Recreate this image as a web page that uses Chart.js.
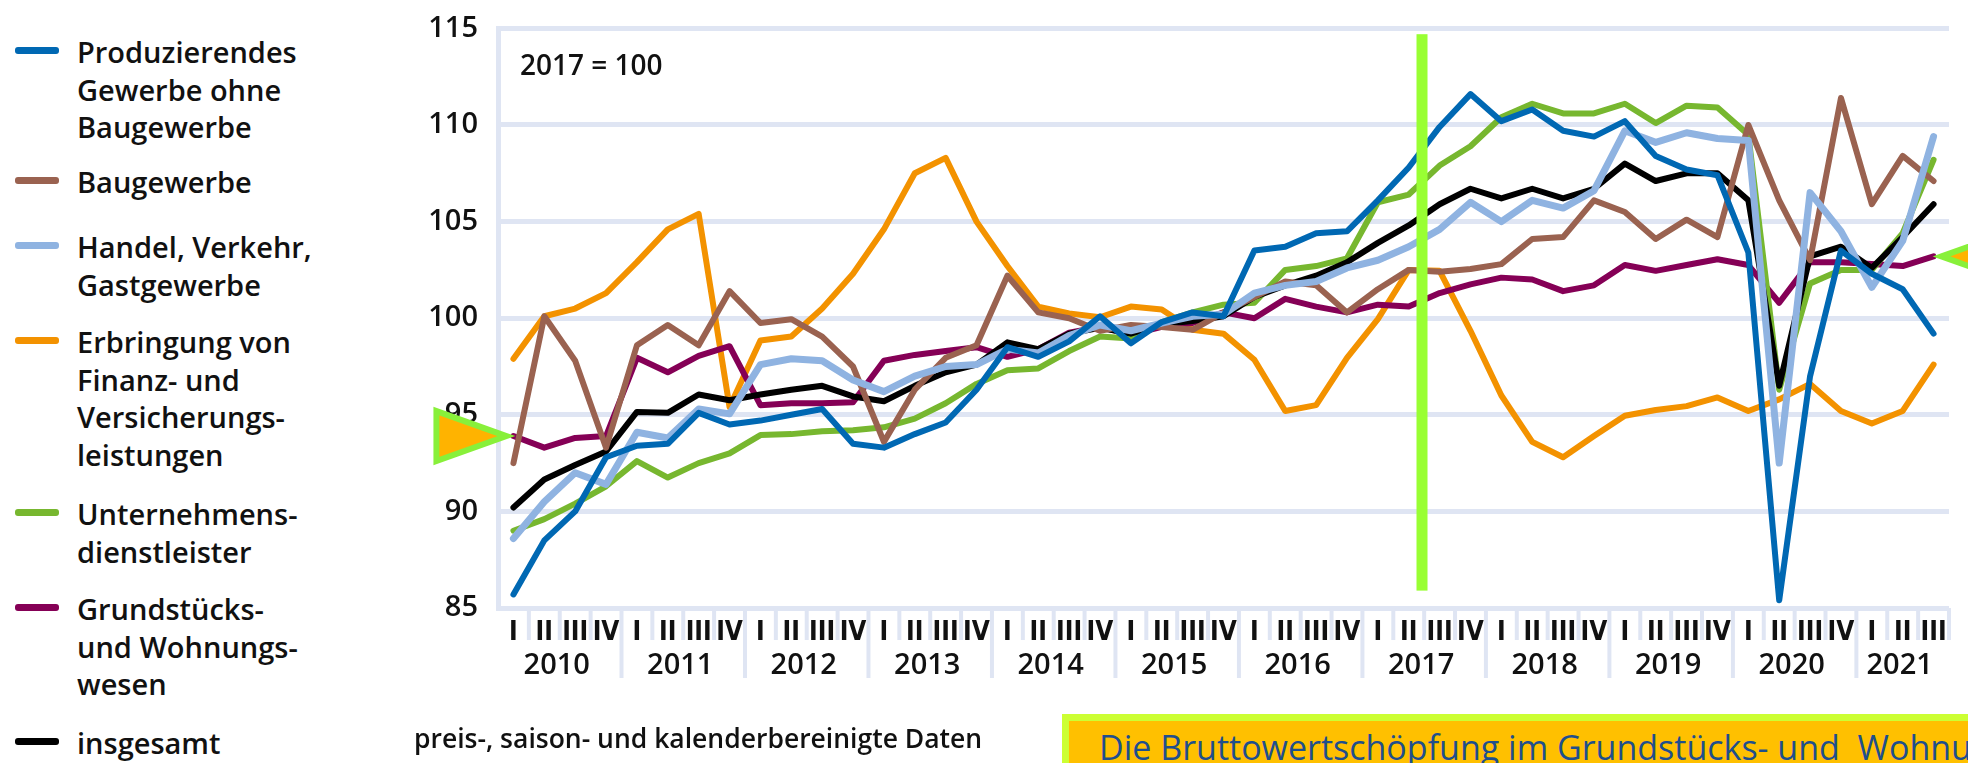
<!DOCTYPE html>
<html lang="de">
<head>
<meta charset="utf-8">
<title>Bruttowertschöpfung nach Wirtschaftsbereichen</title>
<script src="https://cdn.jsdelivr.net/npm/chart.js@4.4.1/dist/chart.umd.min.js"></script>
<style>
    html, body { margin: 0; padding: 0; background: #fff; }
    body { width: 1968px; height: 763px; position: relative; overflow: hidden; font-family: 'Open Sans', sans-serif; color: #111; }
    #chart-box { position: absolute; left: 0; top: -9px; width: 1968px; height: 772px; }
    .legend-swatch { position: absolute; left: 15px; width: 44px; height: 7px; border-radius: 3px; }
    .legend-text { position: absolute; left: 77px; font-size: 29px; font-weight: 600; line-height: 37.5px; white-space: nowrap; }
    #base-note { position: absolute; left: 520px; top: 49px; font-size: 28px; font-weight: 600; line-height: 30px; white-space: nowrap; }
    #source-note { position: absolute; left: 414px; top: 723px; font-size: 26.5px; font-weight: 600; line-height: 30px; white-space: nowrap; }
    #callout { position: absolute; left: 1062px; top: 714px; width: 1000px; height: 100px; box-sizing: border-box;
               border: 7px solid #ccff33; background: #ffc000; padding: 6px 0 0 30px;
               font-size: 34px; line-height: 40px; color: #1f4f8c; white-space: nowrap; overflow: hidden; }
</style>
</head>
<body>
<div id="legend"></div>
<div id="chart-box"><canvas id="chart" width="1968" height="772"></canvas></div>
<div id="base-note">2017 = 100</div>
<div id="source-note">preis-, saison- und kalenderbereinigte Daten</div>
<div id="callout">Die Bruttowertschöpfung im Grundstücks- und&nbsp; Wohnungswesen</div>

<script>
// Quarters 2010 I .. 2021 III
const years = ['2010', '2011', '2012', '2013', '2014', '2015', '2016', '2017', '2018', '2019', '2020', '2021'];
const quarterNames = ['I', 'II', 'III', 'IV'];
const lastYearQuarters = 3;
const yTicks = [85, 90, 95, 100, 105, 110, 115];

const produzierend = [
    85.7, 88.5, 90.0, 92.8,   93.4, 93.5, 95.1, 94.5,   94.7, 95.0, 95.3, 93.5,
    93.3, 94.0, 94.6, 96.3,   98.5, 98.0, 98.8, 100.1,  98.7, 99.8, 100.3, 100.1,
    103.5, 103.7, 104.4, 104.5,  106.1, 107.8, 109.9, 111.6,  110.2, 110.8, 109.7, 109.4,
    110.2, 108.4, 107.7, 107.4,  103.4, 85.4, 97.0, 103.5,  102.3, 101.5, 99.2
];
const baugewerbe = [
    92.5, 100.1, 97.8, 93.3,  98.6, 99.65, 98.6, 101.4,  99.75, 99.95, 99.05, 97.5,
    93.6, 96.3, 97.95, 98.6,  102.2, 100.3, 100.0, 99.35,  99.65, 99.55, 99.4, 100.3,
    101.1, 101.9, 101.7, 100.3,  101.5, 102.5, 102.4, 102.55,  102.8, 104.1, 104.2, 106.1,
    105.5, 104.1, 105.1, 104.2,  110.0, 106.1, 103.0, 111.4,  105.9, 108.4, 107.1
];
const handel = [
    88.6, 90.5, 92.0, 91.4,   94.1, 93.8, 95.3, 95.05,  97.6, 97.9, 97.8, 96.8,
    96.2, 97.0, 97.5, 97.6,   98.4, 98.2, 99.1, 99.65,  99.35, 99.75, 100.1, 100.2,
    101.3, 101.7, 101.9, 102.6,  103.0, 103.7, 104.6, 106.0,  105.0, 106.1, 105.7, 106.6,
    109.7, 109.1, 109.6, 109.3,  109.2, 92.5, 106.5, 104.5,  101.6, 104.0, 109.4
];
const finanz = [
    97.9, 100.1, 100.5, 101.3,  102.9, 104.6, 105.4, 95.4,  98.85, 99.05, 100.5, 102.3,
    104.6, 107.5, 108.3, 105.0,  102.7, 100.6, 100.25, 100.05,  100.6, 100.45, 99.4, 99.2,
    97.85, 95.2, 95.5, 97.95,  99.95, 102.5, 102.45, 99.35,  96.0, 93.6, 92.8, 93.9,
    94.95, 95.25, 95.45, 95.9,  95.2, 95.8, 96.6, 95.2,  94.55, 95.2, 97.6
];
const unternehmen = [
    89.0, 89.6, 90.4, 91.3,   92.6, 91.75, 92.5, 93.0,  93.95, 94.0, 94.15, 94.2,
    94.35, 94.8, 95.6, 96.6,  97.3, 97.4, 98.3, 99.05,  98.95, 99.8, 100.3, 100.7,
    100.8, 102.5, 102.7, 103.1,  106.0, 106.4, 107.9, 108.9,  110.4, 111.1, 110.6, 110.6,
    111.1, 110.1, 111.0, 110.9,  109.5, 96.3, 101.8, 102.5,  102.5, 104.4, 108.2
];
const grundstuecke = [
    93.9, 93.3, 93.8, 93.9,   97.95, 97.2, 98.05, 98.55,  95.5, 95.6, 95.6, 95.65,
    97.8, 98.1, 98.3, 98.5,   98.0, 98.4, 99.25, 99.55,  99.15, 99.55, 99.75, 100.3,
    100.0, 101.0, 100.6, 100.3,  100.7, 100.6, 101.3, 101.75,  102.1, 102.0, 101.4, 101.7,
    102.75, 102.45, 102.75, 103.05,  102.75, 100.8, 102.9, 102.9,  102.8, 102.7, 103.2
];
const insgesamt = [
    90.2, 91.65, 92.4, 93.1,  95.15, 95.1, 96.05, 95.75,  96.05, 96.3, 96.5, 95.95,
    95.7, 96.5, 97.2, 97.6,   98.75, 98.4, 99.2, 99.5,  99.2, 99.7, 99.85, 100.1,
    101.1, 101.7, 102.2, 102.9,  103.9, 104.8, 105.9, 106.7,  106.2, 106.7, 106.2, 106.7,
    108.0, 107.1, 107.5, 107.5,  106.1, 96.5, 103.2, 103.7,  102.6, 104.2, 105.9
];

// category labels "2010 I" ... "2021 III"
const periods = [];
years.forEach((yr, yi) => {
    const n = yi === years.length - 1 ? lastYearQuarters : 4;
    quarterNames.slice(0, n).forEach(q => periods.push(yr + ' ' + q));
});

const gridColor = '#dfe5f3';

const series = [
    {lines: ['Produzierendes', 'Gewerbe ohne', 'Baugewerbe'], data: produzierend, color: '#0068b3', top: 52, order: 1, width: 6},
    {lines: ['Baugewerbe'], data: baugewerbe, color: '#9a6250', top: 182, order: 3, width: 6},
    {lines: ['Handel, Verkehr,', 'Gastgewerbe'], data: handel, color: '#8fb3e1', top: 247, order: 2, width: 7},
    {lines: ['Erbringung von', 'Finanz- und', 'Versicherungs-', 'leistungen'], data: finanz, color: '#f39200', top: 342, order: 7, width: 6},
    {lines: ['Unternehmens-', 'dienstleister'], data: unternehmen, color: '#77b72f', top: 514, order: 5, width: 6},
    {lines: ['Grundstücks-', 'und Wohnungs-', 'wesen'], data: grundstuecke, color: '#850056', top: 609, order: 6, width: 6},
    {lines: ['insgesamt'], data: insgesamt, color: '#000000', top: 743, order: 4, width: 6}
];

// HTML legend on the left
const legend = document.getElementById('legend');
series.forEach(s => {
    const sw = document.createElement('div');
    sw.className = 'legend-swatch';
    sw.style.background = s.color;
    sw.style.top = (s.top - 5) + 'px';
    legend.appendChild(sw);
    const tx = document.createElement('div');
    tx.className = 'legend-text';
    tx.style.top = (s.top - 18.75) + 'px';
    tx.innerHTML = s.lines.join('<br>');
    legend.appendChild(tx);
});

// marker positions (annotation overlay in the reference)
const markerIndex = 29.43;          // between 2017 II and 2017 III
const markerTop = 114.7, markerBottom = 85.9;

const axisDecor = {
    id: 'axisDecor',
    afterDraw(chart) {
        const {ctx, chartArea} = chart;
        const x = chart.scales.x;
        const bottom = chartArea.bottom;
        ctx.save();
        ctx.strokeStyle = gridColor;
        ctx.lineWidth = 4;
        // tick separators between quarters, longer ones between years
        for (let i = 0; i < periods.length; i++) {
            const isYearEnd = periods[i].endsWith(' IV');
            const xm = (i < periods.length - 1)
                ? (x.getPixelForValue(i) + x.getPixelForValue(i + 1)) / 2
                : chartArea.right;
            ctx.beginPath();
            ctx.moveTo(xm, bottom);
            ctx.lineTo(xm, bottom + (isYearEnd ? 70 : 32));
            ctx.stroke();
        }
        // year labels centred under their quarters
        ctx.fillStyle = '#111';
        ctx.font = '600 29px "Open Sans", sans-serif';
        ctx.textAlign = 'center';
        ctx.textBaseline = 'middle';
        years.forEach(yr => {
            const idx = periods.map((p, i) => p.startsWith(yr) ? i : -1).filter(i => i >= 0);
            const cx = (x.getPixelForValue(idx[0]) + x.getPixelForValue(idx[idx.length - 1])) / 2;
            ctx.fillText(yr, cx - 3, bottom + 58);
        });
        ctx.restore();
    }
};

const markers = {
    id: 'markers',
    afterDatasetsDraw(chart) {
        const {ctx} = chart;
        const x = chart.scales.x, y = chart.scales.y;
        ctx.save();
        // green vertical line
        const vx = x.getPixelForValue(markerIndex);
        ctx.fillStyle = '#99ff33';
        ctx.fillRect(vx - 5.5, y.getPixelForValue(markerTop), 11, y.getPixelForValue(markerBottom) - y.getPixelForValue(markerTop));
        // triangles pointing at first and last value of Grundstücks- und Wohnungswesen
        const tri = (tipX, tipY, dir) => {
            ctx.beginPath();
            ctx.moveTo(tipX, tipY);
            ctx.lineTo(tipX - dir * 70, tipY - 25);
            ctx.lineTo(tipX - dir * 70, tipY + 25);
            ctx.closePath();
            ctx.fillStyle = '#ffb300';
            ctx.fill();
            ctx.lineWidth = 6;
            ctx.lineJoin = 'miter';
            ctx.strokeStyle = '#88f03a';
            ctx.stroke();
        };
        const last = grundstuecke.length - 1;
        tri(x.getPixelForValue(0) - 7, y.getPixelForValue(grundstuecke[0]), 1);
        tri(x.getPixelForValue(last) + 8, y.getPixelForValue(grundstuecke[last]), -1);
        ctx.restore();
    }
};

new Chart(document.getElementById('chart').getContext('2d'), {
    type: 'line',
    data: {
        labels: periods,
        datasets: series.map(s => ({
            label: s.lines.join(' ').replace('- ', ''),
            data: s.data,
            borderColor: s.color,
            backgroundColor: s.color,
            borderWidth: s.width,
            pointRadius: 0,
            tension: 0,
            borderJoinStyle: 'round',
            borderCapStyle: 'round',
            order: s.order
        }))
    },
    options: {
        responsive: false,
        animation: false,
        layout: {padding: {left: 377, top: 20, right: 19, bottom: 0}},
        plugins: {legend: {display: false}, tooltip: {enabled: false}},
        scales: {
            x: {
                type: 'category',
                offset: true,
                grid: {display: false},
                border: {display: false},
                ticks: {
                    autoSkip: false,
                    maxRotation: 0,
                    padding: 2,
                    color: '#111',
                    font: {family: "'Liberation Sans Narrow', 'DejaVu Sans Condensed', 'Open Sans', sans-serif", size: 26, weight: 'bold'},
                    callback: (v, i) => periods[i].split(' ')[1]
                },
                afterFit: s => { s.height = 155; }
            },
            y: {
                min: yTicks[0],
                max: yTicks[yTicks.length - 1],
                afterBuildTicks: s => { s.ticks = yTicks.map(v => ({value: v})); },
                grid: {color: gridColor, lineWidth: 5, drawTicks: false},
                border: {display: true, color: gridColor, width: 5},
                ticks: {
                    padding: 20,
                    color: '#111',
                    font: {family: "'Open Sans', sans-serif", size: 29, weight: '600'}
                },
                afterFit: s => { s.width = 121; }
            }
        }
    },
    plugins: [axisDecor, markers]
});
</script>
</body>
</html>
